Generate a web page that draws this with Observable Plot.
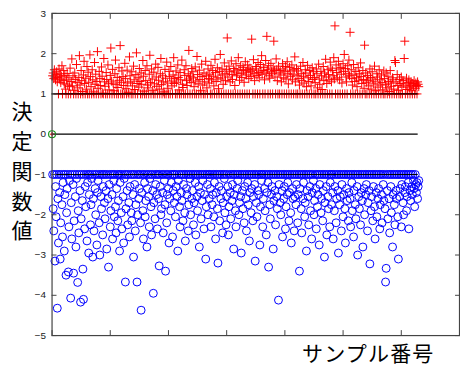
<!DOCTYPE html>
<html><head><meta charset="utf-8">
<script src="https://cdn.jsdelivr.net/npm/d3@7"></script>
<script src="https://cdn.jsdelivr.net/npm/@observablehq/plot@0.6"></script>
<style>
html,body{margin:0;padding:0;overflow:hidden;background:#fff;width:460px;height:369px}
#wrap{position:relative;width:460px;height:369px;overflow:hidden}
#chart{position:absolute;left:0;top:0}
#ylab{position:absolute;left:11px;top:101px;font-family:"Noto Sans CJK JP";font-size:21px;writing-mode:vertical-rl;letter-spacing:8.7px;line-height:22px;color:#000}
#xlab{position:absolute;left:302px;top:342px;font-family:"Noto Sans CJK JP";font-size:21px;letter-spacing:1.2px;line-height:21px;color:#000;white-space:nowrap}
</style></head><body><div id="wrap"><div id="chart"></div><div id="ylab">決定関数値</div><div id="xlab">サンプル番号</div></div>
<script>
// decision function values, positive class (red +)
const positive = [
1.45,1.52,1.38,1.6,1.42,1.35,1.48,1.55,1.3,1.41,1,1.62,1.37,1.5,1.28,1.44,1.7,1,1.33,1.58,1.25,1.46,1.12,1,1.35,1.51,1.22,1,1.4,1.18,
1.64,1,1.31,1.87,1.2,1.45,1,1.09,1.52,1.36,1,1.73,1.28,1.15,1,1.41,1.95,1.22,1,1.58,1.33,1.06,1,1.47,1.81,1.26,1,1.39,1.12,1.68,
1,1.54,1.29,1,1.97,1.43,1.18,1,1.6,1.35,1.05,1,1.78,1.24,1.49,1,1.31,2.05,1.14,1,1.56,1.38,1.21,1,1.67,1.44,1.02,1,1.88,1.3,
1.19,1,1.53,1.36,1,1.72,1.25,1.1,1,1.46,2.14,1.32,1,1.61,1.27,1.08,1,1.5,1.84,1.23,1,1.41,1.16,1,1.65,1.34,2.2,1,1.29,1.57,
1,1.43,1.21,1,1.76,1.38,1.13,1,1.59,1.27,1.04,1,1.92,1.45,1.3,1,1.55,1.2,1,1.69,1.35,1.11,1,1.48,2.02,1.26,1,1.4,1.17,1.63,
1.31,1,1.52,1.24,1,1.83,1.44,1.07,1,1.58,1.33,1,1.7,1.22,1.15,1,1.49,1.96,1.28,1,1.62,1.37,1.09,1,1.54,1.25,1,1.74,1.42,1.19,
1,1.66,1.34,1.12,1,1.5,1.88,1.23,1,1.45,1.3,1.05,1,1.61,1.39,1,1.79,1.27,1.14,1,1.56,1.43,1,1.68,1.32,1.2,1,1.47,1.9,1.26,
1.38,1,1.57,1.29,1,1.72,1.41,1.1,1,1.53,1.35,1,1.84,1.24,1.16,1,1.6,1.46,1,1.7,1.33,1.21,1,1.5,2.08,1.37,1,1.44,1.28,1.63,
1,1.55,1.4,1.18,1,1.67,1.32,1,1.93,1.48,1.25,1,1.59,1.36,1.08,1,1.74,1.43,1.22,1,1.52,1.3,1,1.81,1.45,1.15,1,1.62,1.38,1.27,
1.49,1,1.71,1.35,1,1.58,1.44,1.2,1,1.86,1.53,1.31,1,1.65,1.4,1.13,1,1.56,1.98,1.37,1,1.62,1.47,1.24,1,1.77,1.5,1.33,1,1.6,
2.39,1.42,1,1.69,1.55,1.3,1,1.82,1.48,1.36,1,1.63,1.57,1.21,1,1.75,1.45,1.52,1,1.9,1.6,1.34,1,1.7,1.5,1.41,1,1.66,1.58,1.29,
1,1.8,1.54,1.47,1,1.72,1.61,1.38,1,1.64,1.55,1.43,2.36,1.59,1,1.85,1.5,1.33,1,1.68,1.62,1.46,1,1.78,1.53,1.4,1,1.73,1.57,1.95,
1.49,1,1.66,1.58,1.35,1,1.83,1.52,2.43,1.6,1,1.7,1.45,1.39,1,1.76,1.55,1.5,1,1.64,2.31,1.58,1.42,1,1.87,1.6,1.33,1,1.69,1.52,
1,1.58,1.47,1.3,1,1.75,1.62,1.4,1,1.55,1.68,1.37,1,1.8,1.5,1.25,1,1.66,1.57,1.44,1,1.72,1.35,1.49,1,1.6,1.92,1.3,1,1.63,
1.45,1,1.57,1.38,1.22,1,1.69,1.5,1.33,1,1.78,1.44,1.27,1,1.6,1.52,1.18,1,1.71,1.4,1.31,1,1.58,1.46,1.2,1,1.65,1.36,1.55,1,
1.41,1.28,1,1.62,1.5,1.15,1,1.74,1.37,1.24,1,1.56,1.45,1.11,1,1.68,1.33,1.52,1,1.86,1.42,1.26,1,1.6,1.48,1.35,1,1.79,1.64,1.3,
1,1.58,1.45,1.9,1.37,2.69,1,1.72,1.53,1.4,1,1.81,1.62,1.35,1,1.66,1.49,1.27,1,1.75,1.56,1.98,1,1.63,1.42,1.3,1,1.7,1.5,1.84,
1.45,2.53,1,1.6,1.38,1.22,1,1.73,1.47,1.31,1,1.56,1.4,1.18,1,1.65,1.34,1.5,1,1.77,1.43,1.26,1,1.58,1.36,1.14,2.21,1,1.52,1.29,
1,1.46,1.33,1.2,1,1.62,1.41,1.12,1,1.55,1.37,1.25,1,1.69,1.3,1.08,1,1.5,1.42,1.17,1,1.6,1.35,1.22,1,1.47,1.28,1.1,1,1.57,
1.38,1,1.24,1.52,1.15,1,1.44,1.31,1.06,1,1.58,1.27,1.19,1,1.4,1.35,1.12,1,1.83,1.78,1.3,1,1.48,1.21,1.09,1,1.36,1.26,1,1.42,
1.17,1,1.33,1.25,1.88,2.31,1,1.2,1.39,1.11,1,1.28,1.35,1.15,1,1.22,1.3,1.08,1,1.26,1.19,1.33,1,1.14,1.27,1.21,1,1.3,1.24,1.18
];
// decision function values, negative class (blue o)
const negative = [
-1,-1.85,-2.4,-1,-3.15,-1.3,-2.05,-1,-4.32,-1.6,-2.7,-1,-1.45,-3.1,-2.2,-1,-1.75,-2.55,-1.2,-1,-2.9,-1.5,-1,-3.5,-1.95,-1.35,-1,-3.42,-2.3,-1.15,
-1,-4.07,-1.7,-2.6,-1,-1.25,-3.45,-2.15,-1,-1.55,-2.8,-1.1,-1,-3.68,-1.9,-2.45,-1,-1.4,-4.17,-2.1,-1,-1.65,-3.35,-4.1,-1,-2.35,-1.3,-1.8,-1,-2.65,
-1.2,-1,-2.95,-1.5,-1,-2.25,-1.75,-1.1,-1,-3.05,-1.6,-2.4,-1,-1.35,-2.0,-1,-2.75,-1.45,-1.15,-1,-2.2,-3.0,-1,-1.55,-1.85,-1,-2.5,-1.3,-1,-1.7,
-2.1,-1,-1.4,-2.85,-1,-1.6,-3.3,-1.25,-1,-2.3,-1.9,-1,-1.5,-2.6,-1,-1.15,-2.05,-1,-1.8,-2.45,-1.35,-1,-2.15,-1.65,-1,-2.9,-1.2,-1,-1.95,-2.35,
-1,-1.55,-2.7,-1.1,-1,-3.67,-1.85,-1,-1.4,-2.25,-1,-1.7,-2.55,-1.3,-1,-1.95,-2.15,-1,-1.5,-3.05,-1,-1.25,-2.4,-1.75,-1,-3.67,-2.0,-1,-1.6,-1.35,
-1,-2.2,-4.37,-1.45,-1,-1.9,-2.6,-1,-1.2,-2.05,-1.65,-1,-2.8,-1.35,-1,-1.55,-2.3,-1.1,-1,-1.8,-2.5,-1,-1.4,-3.95,-1.7,-1,-2.1,-1.25,-1,-1.5,
-2.35,-1,-1.6,-3.27,-1,-1.3,-2.0,-1.85,-1,-1.45,-2.45,-1,-1.15,-1.75,-3.4,-1,-2.2,-1.5,-1,-1.35,-2.7,-1.6,-1,-1.9,-1.2,-1,-2.55,-1.4,-1,-1.7,
-1,-2.05,-1.3,-1,-1.55,-2.9,-1.15,-1,-1.8,-2.3,-1,-1.45,-1.65,-1,-2.15,-1.25,-1,-1.95,-2.65,-1,-1.35,-1.5,-1,-2.4,-1.75,-1,-1.1,-2.0,-1,-1.6,
-1.4,-1,-2.25,-1.7,-1,-1.2,-2.5,-1,-1.55,-1.9,-1,-1.3,-2.8,-1,-1.45,-2.1,-1,-1.65,-1.15,-1,-2.35,-1.5,-1,-3.1,-1.8,-1,-1.25,-2.0,-1,-1.6,
-1,-1.35,-2.3,-1,-1.75,-1.5,-1,-2.05,-1.2,-1,-2.6,-1.45,-1,-1.85,-3.2,-1,-1.3,-2.15,-1,-1.6,-1.4,-1,-2.45,-1.7,-1,-1.1,-1.95,-1,-2.25,-1.55,
-1,-1.3,-2.5,-1.8,-1,-1.45,-2.1,-1,-1.65,-1.25,-1,-2.85,-1.5,-1,-1.9,-2.3,-1,-1.35,-1.15,-1,-2.0,-1.7,-1,-1.55,-2.95,-1,-1.4,-1.85,-1,-2.2,
-1.3,-1,-1.6,-2.4,-1,-1.2,-1.75,-1,-2.65,-1.45,-1,-1.95,-1.35,-1,-2.15,-1.55,-1,-1.25,-3.15,-1,-1.7,-2.05,-1,-1.4,-1.5,-1,-2.75,-1.8,-1,-1.15,
-1,-2.3,-1.6,-1,-1.35,-1.9,-1,-2.5,-1.45,-1,-1.2,-3.3,-1,-1.75,-2.1,-1,-1.5,-1.3,-1,-2.85,-1.65,-1,-1.4,-2.25,-1,-1.55,-1.85,-1,-4.12,-1.25,
-1,-1.7,-2.0,-1,-1.4,-2.55,-1,-1.6,-1.3,-1,-2.35,-1.8,-1,-1.5,-1.2,-1,-2.15,-1.45,-1,-1.95,-2.7,-1,-1.35,-1.6,-1,-2.4,-1.55,-1,-1.75,-1.25,
-1,-2.2,-1.5,-1,-3.4,-1.35,-1,-1.85,-2.45,-1,-1.6,-1.2,-1,-2.05,-1.7,-1,-2.9,-1.4,-1,-1.55,-2.25,-1,-1.3,-1.9,-1,-2.6,-1.45,-1,-1.15,-2.0,
-1.65,-1,-1.35,-2.35,-1,-1.8,-1.5,-1,-2.75,-1.25,-1,-1.95,-1.6,-1,-2.15,-1.4,-1,-3.05,-1.7,-1,-1.3,-2.5,-1,-1.55,-1.85,-1,-2.3,-1.2,-1,-1.75,
-1,-1.45,-2.6,-1,-1.9,-1.3,-1,-2.2,-1.6,-1,-1.4,-2.95,-1,-1.75,-1.55,-1,-2.4,-1.25,-1,-2.05,-1.5,-1,-1.85,-2.7,-1,-1.35,-1.65,-1,-2.15,-1.45,
-1,-1.6,-2.3,-1,-1.2,-1.9,-1,-2.55,-1.4,-1,-1.75,-2.1,-1,-1.3,-3.0,-1,-1.55,-1.85,-1,-2.25,-1.45,-1,-1.65,-2.8,-1,-1.35,-2.0,-1,-1.5,-1.25,
-1,-2.4,-1.7,-1,-1.4,-3.22,-1,-1.9,-1.55,-1,-2.15,-1.3,-1,-1.8,-2.6,-1,-1.45,-2.05,-1,-1.6,-1.35,-1,-2.35,-1.75,-1,-1.5,-2.2,-1,-1.25,-1.65,
-1,-1.85,-3.67,-3.33,-1,-1.4,-2.1,-1,-1.6,-2.45,-1,-1.3,-1.95,-1,-2.8,-1.5,-1,-1.75,-2.25,-1,-1.4,-1.6,-1,-2.05,-3.1,-1,-1.55,-1.35,-1,-2.3,
-1.25,-1,-1.7,-2.0,-1,-1.45,-1.3,-1,-1.9,-1.55,-1,-1.2,-2.35,-1,-1.4,-1.65,-1,-1.3,-1.5,-1,-1.15,-1.35,-1.8,-1,-1.25,-1.45,-1.2,-1.6,-1.3,-1.15
];
const boundaries = [1, 0, -1];
const origin = [{x: 0, y: 0}];
const yTicks = [3, 2, 1, 0, -1, -2, -3, -4, -5];
const xTicks = [0, 100, 200, 300, 400, 500, 600, 700];

const posData = positive.map((v, i) => ({x: i + 1, y: v}));
const negData = negative.map((v, i) => ({x: i + 1, y: v}));
const nMax = Math.max(positive.length, negative.length);

const plusSymbol = {
  draw(ctx, size) {
    const r = Math.sqrt(size / Math.PI);
    ctx.moveTo(-r, 0); ctx.lineTo(r, 0);
    ctx.moveTo(0, -r); ctx.lineTo(0, r);
  }
};

const axisColor = "#444";
const chart = Plot.plot({
  width: 464,
  height: 369,
  marginLeft: 52,
  marginRight: 1,
  marginTop: 13,
  marginBottom: 31,
  style: {fontFamily: "Liberation Sans, Arial, sans-serif", fontSize: "10px", background: "white", overflow: "visible"},
  x: {domain: [0, 700]},
  y: {domain: [-5, 3]},
  marks: [
    Plot.dot(negData, {x: "x", y: "y", r: 4, stroke: "#0000ff", fill: "none", strokeWidth: 1}),
    Plot.dot(posData, {x: "x", y: "y", r: 4.5, symbol: plusSymbol, stroke: "#ff0000", fill: "none", strokeWidth: 1}),
    Plot.ruleY(boundaries, {x1: 0, x2: nMax - 1, stroke: "#000", strokeWidth: 1.2}),
    Plot.dot(origin, {x: "x", y: "y", r: 3.5, stroke: "#1a9a1a", fill: "none", strokeWidth: 1.2}),
    Plot.dot(origin, {x: "x", y: "y", r: 2.2, symbol: plusSymbol, stroke: "#ff0000", fill: "none", strokeWidth: 1}),
    Plot.frame({stroke: axisColor, strokeWidth: 1.2}),
    Plot.axisY({anchor: "left", ticks: yTicks, tickSize: -5, tickPadding: 11, label: null, stroke: axisColor, fill: "#222"}),
    Plot.axisY({anchor: "right", ticks: yTicks, tickSize: -5, tickFormat: () => "", label: null, stroke: axisColor}),
    Plot.axisX({anchor: "bottom", ticks: xTicks, tickSize: -5, tickFormat: () => "", label: null, stroke: axisColor}),
    Plot.axisX({anchor: "top", ticks: xTicks, tickSize: -5, tickFormat: () => "", label: null, stroke: axisColor})
  ]
});
document.getElementById("chart").appendChild(chart);
</script>
</body></html>
